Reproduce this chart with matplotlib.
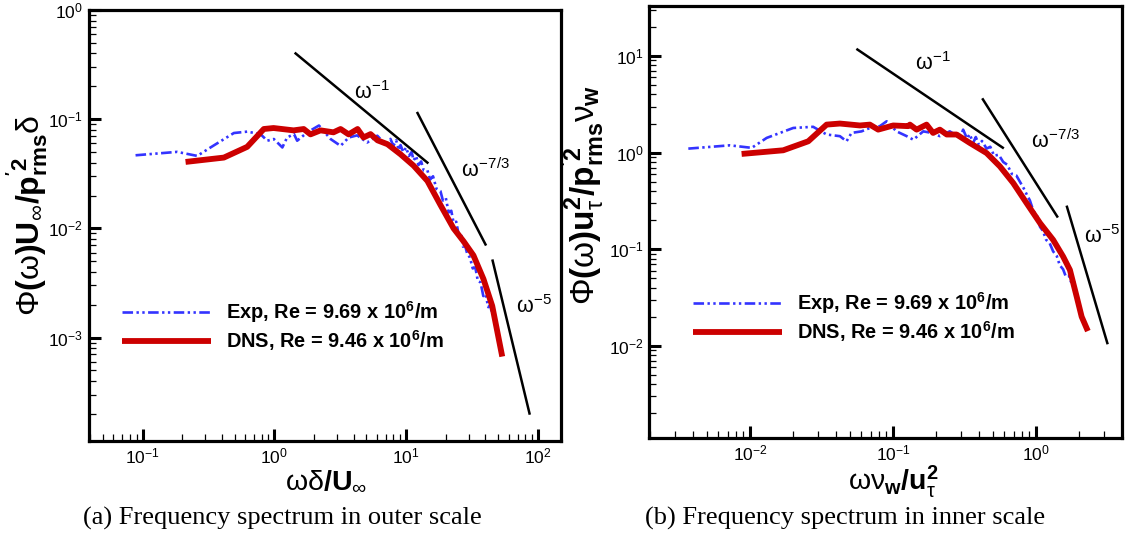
import numpy as np
import matplotlib
matplotlib.use("Agg")
import matplotlib.pyplot as plt

plt.rcParams['font.family'] = ['Liberation Sans', 'DejaVu Sans']
plt.rcParams['mathtext.fontset'] = 'custom'
plt.rcParams['mathtext.rm'] = 'Liberation Sans'
plt.rcParams['mathtext.it'] = 'Liberation Sans'
plt.rcParams['mathtext.bf'] = 'Liberation Sans:bold'
plt.rcParams['axes.unicode_minus'] = False

# Datos - escala externa (a)
dns_out_x = [0.212, 0.414, 0.622, 0.832, 0.986, 1.40, 1.67, 1.88, 2.24, 2.81, 3.18, 3.66,
             4.28, 4.75, 5.37, 6.07, 7.22, 9.07, 11.4, 14.5, 18.2, 22.9, 27.3, 32.4,
             38.6, 45.0, 53.6]
dns_out_y = [0.0406, 0.0445, 0.0558, 0.0813, 0.083, 0.079, 0.0813, 0.0726, 0.079, 0.0758,
             0.0813, 0.0726, 0.0813, 0.068, 0.073, 0.064, 0.059, 0.0477, 0.0375, 0.0272,
             0.0164, 0.0100, 0.0076, 0.00566, 0.00344, 0.00195, 0.00067]

exp_out_x = [0.0885, 0.183, 0.260, 0.328, 0.493, 0.622, 0.785, 0.883, 0.991, 1.15, 1.25,
             1.41, 1.49, 1.78, 2.18, 2.67, 3.18, 3.67, 4.25, 5.07, 6.04, 6.6, 7.22, 7.6,
             8.0, 8.4, 8.8, 9.07, 9.5, 10.0, 10.5, 11.0, 11.4, 11.9, 12.4, 13.0, 13.6,
             14.5, 15.2, 16.0, 17.0, 18.2, 19.0, 20.0, 21.0, 22.0, 22.9, 24.0, 25.0,
             26.0, 27.0, 28.0, 29.1, 30.5, 32.0, 33.5, 35.0, 36.7, 38.5, 40.0, 42.0,
             43.6, 44.5]
exp_out_y = [0.0467, 0.0502, 0.0461, 0.0551, 0.0747, 0.0769, 0.073, 0.0635, 0.0658,
             0.0551, 0.068, 0.073, 0.0635, 0.0758, 0.0875, 0.0658, 0.057, 0.068, 0.0711,
             0.0612, 0.0706, 0.063, 0.059, 0.066, 0.057, 0.064, 0.052, 0.058, 0.050,
             0.055, 0.046, 0.050, 0.042, 0.046, 0.038, 0.041, 0.034, 0.034, 0.028,
             0.030, 0.023, 0.022, 0.018, 0.019, 0.014, 0.0145, 0.0113, 0.0115, 0.0088,
             0.0092, 0.0068, 0.0070, 0.0058, 0.0054, 0.0043, 0.0044, 0.0033, 0.0032,
             0.0024, 0.0025, 0.0019, 0.0020, 0.0017]

# Datos - escala interna (b)
dns_in_x = [0.00875, 0.0171, 0.0256, 0.0344, 0.0426, 0.0588, 0.069, 0.0789, 0.1005,
            0.128, 0.1315, 0.1465, 0.172, 0.191, 0.213, 0.238, 0.279, 0.345, 0.452,
            0.560, 0.694, 0.861, 1.07, 1.32, 1.55, 1.73, 1.93, 2.09, 2.31]
dns_in_y = [0.969, 1.057, 1.31, 1.95, 2.0, 1.91, 1.95, 1.73, 1.91, 1.88, 1.95, 1.73,
            1.95, 1.60, 1.73, 1.54, 1.54, 1.26, 0.99, 0.721, 0.485, 0.30, 0.186, 0.125,
            0.084, 0.061, 0.0322, 0.0200, 0.0142]

exp_in_x = [0.00371, 0.00724, 0.0103, 0.0131, 0.0201, 0.0277, 0.0344, 0.0426, 0.0474,
            0.0514, 0.0604, 0.069, 0.0811, 0.0904, 0.106, 0.125, 0.139, 0.163, 0.187,
            0.213, 0.250, 0.294, 0.31, 0.33, 0.345, 0.364, 0.38, 0.40, 0.42, 0.452,
            0.48, 0.51, 0.55, 0.591, 0.63, 0.68, 0.73, 0.773, 0.82, 0.87, 0.908, 0.96,
            1.02, 1.07, 1.12, 1.18, 1.25, 1.32, 1.40, 1.47, 1.55, 1.62, 1.70, 1.78, 1.87]
exp_in_y = [1.10, 1.19, 1.12, 1.42, 1.80, 1.85, 1.54, 1.48, 1.31, 1.60, 1.66, 1.80,
            1.88, 2.11, 1.66, 1.48, 1.36, 1.66, 1.60, 1.48, 1.66, 1.42, 1.73, 1.40,
            1.55, 1.26, 1.45, 1.20, 1.32, 1.10, 1.15, 0.93, 0.95, 0.80, 0.75, 0.60,
            0.58, 0.50, 0.43, 0.36, 0.32, 0.25, 0.22, 0.17, 0.155, 0.125, 0.115, 0.095,
            0.085, 0.068, 0.062, 0.052, 0.053, 0.044, 0.047]

# Leyes de potencia: exponente, constante, x inicial, x final
exponentes = [-1.0, -7.0/3.0, -5.0]
ley_out_c = [0.58, 39.0, 9.66e5]
ley_out_x = [(1.45, 14.5), (12.2, 40.0), (45.3, 86.3)]
ley_in_c = [0.66, 0.486, 3.36]
ley_in_x = [(0.0565, 0.587), (0.426, 1.41), (1.65, 3.16)]
etiquetas_ley = [r'$\omega^{-1}$', r'$\omega^{-7/3}$', r'$\omega^{-5}$']

leyenda = [r'Exp, Re = 9.69 x 10$^{\mathbf{6}}$/m', r'DNS, Re = 9.46 x 10$^{\mathbf{6}}$/m']

azul = '#3333ff'
rojo = '#cc0000'
dash_exp = (0, (4, 1.3, 0.9, 1.3, 0.9, 1.3))

fig = plt.figure(figsize=(11.25, 5.37), dpi=100)
ax1 = fig.add_axes([0.0788, 0.1788, 0.42, 0.8026])
ax2 = fig.add_axes([0.5769, 0.1844, 0.4204, 0.8045])


def configurar(ax):
    ax.set_xscale('log')
    ax.set_yscale('log')
    for s in ax.spines.values():
        s.set_linewidth(2.3)
    ax.tick_params(which='major', direction='in', length=8.5, width=2.2,
                   labelsize=12.5, pad=4, top=False, right=False)
    ax.tick_params(which='minor', direction='in', length=5, width=0.9,
                   top=False, right=False)


def dibujar(ax, ex, ey, dx, dy, cs, xs, pos_txt):
    ax.plot(ex, ey, color=azul, lw=1.9, linestyle=dash_exp, label=leyenda[0], zorder=2)
    ax.plot(dx, dy, color=rojo, lw=4.2, solid_capstyle='butt', label=leyenda[1], zorder=3)
    for p, c, (x0, x1), txt, (tx, ty) in zip(exponentes, cs, xs, etiquetas_ley, pos_txt):
        xx = np.array([x0, x1])
        ax.plot(xx, c * xx ** p, color='black', lw=1.8, zorder=4)
        ax.text(tx, ty, txt, transform=ax.transAxes, fontsize=15.5,
                ha='left', va='baseline')


configurar(ax1)
dibujar(ax1, exp_out_x, exp_out_y, dns_out_x, dns_out_y, ley_out_c, ley_out_x,
        [(0.562, 0.793), (0.788, 0.613), (0.905, 0.297)])
ax1.set_xlim(0.039, 150)
ax1.set_ylim(1.13e-4, 1.0)
ax1.legend(loc='center left', bbox_to_anchor=(0.071, 0.267), frameon=False,
           borderpad=0, borderaxespad=0, handlelength=4.45, handletextpad=0.75,
           labelspacing=0.15, prop={'weight': 'bold', 'size': 14.4})

configurar(ax2)
dibujar(ax2, exp_in_x, exp_in_y, dns_in_x, dns_in_y, ley_in_c, ley_in_x,
        [(0.562, 0.852), (0.808, 0.671), (0.92, 0.451)])
ax2.set_xlim(0.00197, 4.0)
ax2.set_ylim(1.11e-3, 33)
ax2.legend(loc='center left', bbox_to_anchor=(0.093, 0.280), frameon=False,
           borderpad=0, borderaxespad=0, handlelength=4.45, handletextpad=0.75,
           labelspacing=0.15, prop={'weight': 'bold', 'size': 14.4})

# Etiquetas de ejes
fig.text(0.0245, 0.598,
         r"$\Phi\mathbf{(}\omega\mathbf{)U}_{\infty}\mathbf{/p}^{\mathbf{'2}}_{\mathbf{rms}}\delta$",
         rotation=90, ha='center', va='center', fontsize=23)
fig.text(0.5185, 0.637,
         r"$\Phi\mathbf{(}\omega\mathbf{)u}^{\mathbf{2}}_{\tau}\mathbf{/p}^{\mathbf{'2}}_{\mathbf{rms}}\nu_{\mathbf{w}}$",
         rotation=90, ha='center', va='center', fontsize=24)
fig.text(0.290, 0.104, r"$\omega\delta\mathbf{/U}_{\infty}$", ha='center', va='center',
         fontsize=20.5)
fig.text(0.794, 0.104, r"$\omega\nu_{\mathbf{w}}\mathbf{/u}^{\mathbf{2}}_{\tau}$",
         ha='center', va='center', fontsize=20.5)

# Subtitulos
fig.text(0.251, 0.035, '(a) Frequency spectrum in outer scale', ha='center', va='center',
         fontsize=19, family='Liberation Serif')
fig.text(0.751, 0.035, '(b) Frequency spectrum in inner scale', ha='center', va='center',
         fontsize=19, family='Liberation Serif')

fig.savefig('out.png', dpi=100)
